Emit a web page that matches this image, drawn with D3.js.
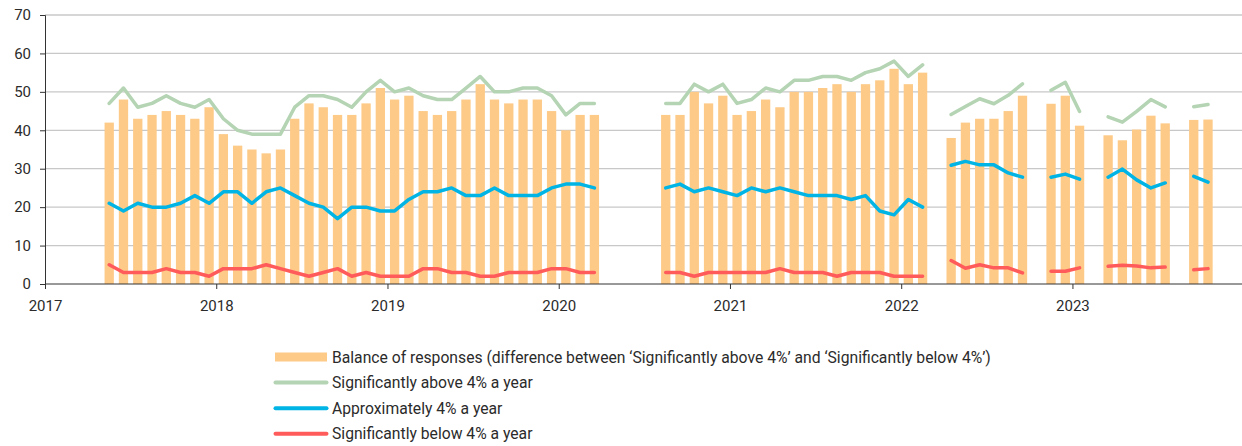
<!DOCTYPE html>
<html>
<head>
<meta charset="utf-8">
<script src="https://cdn.jsdelivr.net/npm/d3@7"></script>
<style>
  body { margin: 0; background: #fff; }
  svg { display: block; font-family: Roboto, "Open Sans", sans-serif; }
</style>
</head>
<body>
<div id="chart"></div>
<script>
// Months from May 2017 to Oct 2023 (null = no survey that month)
const months = [
  "2017-05", "2017-06", "2017-07", "2017-08", "2017-09", "2017-10", "2017-11", "2017-12",
  "2018-01", "2018-02", "2018-03", "2018-04", "2018-05", "2018-06", "2018-07", "2018-08", "2018-09", "2018-10", "2018-11", "2018-12",
  "2019-01", "2019-02", "2019-03", "2019-04", "2019-05", "2019-06", "2019-07", "2019-08", "2019-09", "2019-10", "2019-11", "2019-12",
  "2020-01", "2020-02", "2020-03", "2020-04", "2020-05", "2020-06", "2020-07", "2020-08", "2020-09", "2020-10", "2020-11", "2020-12",
  "2021-01", "2021-02", "2021-03", "2021-04", "2021-05", "2021-06", "2021-07", "2021-08", "2021-09", "2021-10", "2021-11", "2021-12",
  "2022-01", "2022-02", "2022-03", "2022-04", "2022-05", "2022-06", "2022-07", "2022-08", "2022-09", "2022-10", "2022-11", "2022-12",
  "2023-01", "2023-02", "2023-03", "2023-04", "2023-05", "2023-06", "2023-07", "2023-08", "2023-09", "2023-10"
]

const balance = [
  42, 48, 43, 44, 45, 44, 43, 46,
  39, 36, 35, 34, 35, 43, 47, 46, 44, 44, 47, 51,
  48, 49, 45, 44, 45, 48, 52, 48, 47, 48, 48, 45,
  40, 44, 44, null, null, null, null, 44, 44, 50, 47, 49,
  44, 45, 48, 46, 50, 50, 51, 52, 50, 52, 53, 56,
  52, 55, null, 38, 42, 43, 43, 45, 49, null, 46.9, 49,
  41.2, null, 38.7, 37.4, 40.2, 43.8, 41.8, null, 42.7, 42.8
]

const above = [
  47, 51, 46, 47, 49, 47, 46, 48,
  43, 40, 39, 39, 39, 46, 49, 49, 48, 46, 50, 53,
  50, 51, 49, 48, 48, 51, 54, 50, 50, 51, 51, 49,
  44, 47, 47, null, null, null, null, 47, 47, 52, 50, 52,
  47, 48, 51, 50, 53, 53, 54, 54, 53, 55, 56, 58,
  54, 57, null, 44.1, 46.2, 48.2, 46.9, 49.1, 52.1, null, 50.4, 52.5,
  44.9, null, 43.5, 42.1, 44.9, 48, 46.1, null, 46.1, 46.7
]

const approx = [
  21, 19, 21, 20, 20, 21, 23, 21,
  24, 24, 21, 24, 25, 23, 21, 20, 17, 20, 20, 19,
  19, 22, 24, 24, 25, 23, 23, 25, 23, 23, 23, 25,
  26, 26, 25, null, null, null, null, 25, 26, 24, 25, 24,
  23, 25, 24, 25, 24, 23, 23, 23, 22, 23, 19, 18,
  22, 20, null, 30.9, 31.9, 31, 31, 28.9, 27.8, null, 27.8, 28.6,
  27.3, null, 27.8, 29.9, 27.1, 25, 26.3, null, 28, 26.5
]

const below = [
  5, 3, 3, 3, 4, 3, 3, 2,
  4, 4, 4, 5, 4, 3, 2, 3, 4, 2, 3, 2,
  2, 2, 4, 4, 3, 3, 2, 2, 3, 3, 3, 4,
  4, 3, 3, null, null, null, null, 3, 3, 2, 3, 3,
  3, 3, 3, 4, 3, 3, 3, 2, 3, 3, 3, 2,
  2, 2, null, 6.1, 4.1, 5, 4.2, 4.2, 2.9, null, 3.3, 3.3,
  4.2, null, 4.6, 4.9, 4.7, 4.2, 4.4, null, 3.7, 4
]

const yearTicks = [2017, 2018, 2019, 2020, 2021, 2022, 2023]
const yTicks = [0, 10, 20, 30, 40, 50, 60, 70]

const seriesNames = [
  "Balance of responses (difference between \u2018Significantly above 4%\u2019 and \u2018Significantly below 4%\u2019)",
  "Significantly above 4% a year",
  "Approximately 4% a year",
  "Significantly below 4% a year"
]

const colors = {
  bar: "#fdca88",
  above: "#b4d4b3",
  approx: "#00b4e5",
  below: "#ff5b5b"
}

const width = 1242
const height = 446
const margin = { top: 15, left: 45, bottom: 284 }

// month index counted from Jan 2017
function monthIndex(s) {
  const [y, m] = s.split("-").map(Number)
  return (y - 2017) * 12 + (m - 1)
}

const data = months.map((m, i) => ({
  idx: monthIndex(m),
  balance: balance[i],
  above: above[i],
  approx: approx[i],
  below: below[i]
}))

const svg = d3
  .select("#chart")
  .append("svg")
  .attr("width", width)
  .attr("height", height)

const x = d3.scaleLinear().domain([0, 84]).range([margin.left, margin.left + 84 * 14.27])
const y = d3.scaleLinear().domain([0, 70]).range([margin.bottom, margin.top])

// gridlines
svg
  .append("g")
  .selectAll("line")
  .data(yTicks.slice(1))
  .enter()
  .append("line")
  .attr("x1", margin.left)
  .attr("x2", width)
  .attr("y1", d => y(d))
  .attr("y2", d => y(d))
  .attr("stroke", "#c8c8c8")
  .attr("stroke-width", 1.3)

// bars
const barW = 9.3
svg
  .append("g")
  .selectAll("rect")
  .data(data.filter(d => d.balance != null))
  .enter()
  .append("rect")
  .attr("x", d => x(d.idx + 0.5) - barW / 2)
  .attr("y", d => y(d.balance))
  .attr("width", barW)
  .attr("height", d => y(0) - y(d.balance))
  .attr("fill", colors.bar)

// lines
const lineKeys = ["above", "approx", "below"]
lineKeys.forEach(k => {
  const line = d3
    .line()
    .defined(d => d[k] != null)
    .x(d => x(d.idx + 0.5))
    .y(d => y(d[k]))
  svg
    .append("path")
    .datum(data)
    .attr("d", line)
    .attr("fill", "none")
    .attr("stroke", colors[k])
    .attr("stroke-width", 3.5)
    .attr("stroke-linejoin", "round")
    .attr("stroke-linecap", "round")
})

// y axis
const yAxis = d3.axisLeft(y).tickValues(yTicks).tickSize(5).tickPadding(9)
svg
  .append("g")
  .attr("transform", `translate(${margin.left},0)`)
  .call(yAxis)
  .call(g => g.selectAll("text").attr("font-size", 15).attr("fill", "#2b2b2b").attr("font-family", "Roboto"))
  .call(g => g.selectAll("line,path").attr("stroke", "#333"))

// x axis
const xAxis = d3
  .axisBottom(x)
  .tickValues(yearTicks.map(d => (d - 2017) * 12))
  .tickFormat((d, i) => yearTicks[i])
  .tickSize(5)
  .tickPadding(11)
svg
  .append("g")
  .attr("transform", `translate(0,${margin.bottom})`)
  .call(xAxis)
  .call(g => g.select(".domain").attr("d", `M${margin.left},0H${width}`))
  .call(g => g.selectAll("text").attr("font-size", 15).attr("fill", "#2b2b2b").attr("font-family", "Roboto"))
  .call(g => g.selectAll("line,path").attr("stroke", "#333"))

// legend
const legend = svg.append("g").attr("transform", "translate(274,357)")
const rowH = 25.6
legend
  .append("rect")
  .attr("x", 1)
  .attr("y", -4.5)
  .attr("width", 52)
  .attr("height", 9)
  .attr("fill", colors.bar)

lineKeys.forEach((k, i) => {
  legend
    .append("line")
    .attr("x1", 1.5)
    .attr("x2", 52.5)
    .attr("y1", (i + 1) * rowH)
    .attr("y2", (i + 1) * rowH)
    .attr("stroke", colors[k])
    .attr("stroke-width", 4)
    .attr("stroke-linecap", "round")
})

legend
  .selectAll("text")
  .data(seriesNames)
  .enter()
  .append("text")
  .attr("x", 58)
  .attr("y", (d, i) => i * rowH)
  .attr("dy", "0.35em")
  .attr("font-size", 15.7)
  .attr("fill", "#2b2b2b")
  .text(d => d)
</script>
</body>
</html>
